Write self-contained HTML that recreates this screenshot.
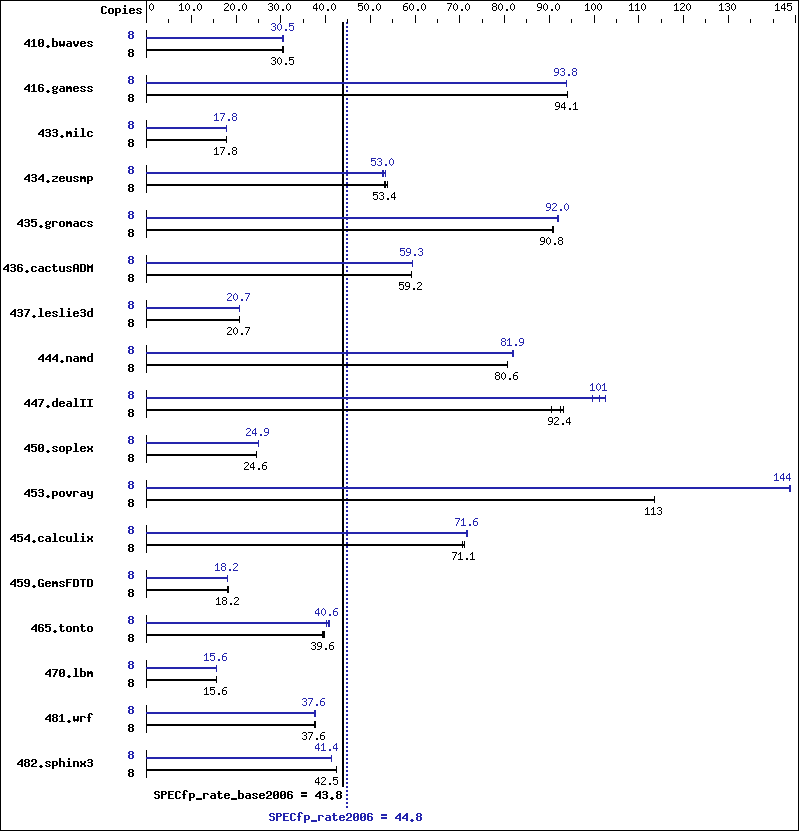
<!DOCTYPE html>
<html><head><meta charset="utf-8"><title>SPECfp_rate2006</title>
<style>html,body{margin:0;padding:0;background:#fff;width:799px;height:831px;overflow:hidden;font-family:"Liberation Sans",sans-serif}svg{display:block}</style>
</head><body>
<svg width="799" height="831" viewBox="0 0 799 831" shape-rendering="crispEdges">
<defs><path id="s2e" d="M2 9h2v1h-2zM2 10h2v1h-2z"/><path id="s30" d="M2 3h1v1h-1zM1 4h1v1h-1zM3 4h1v1h-1zM0 5h1v1h-1zM4 5h1v1h-1zM0 6h1v1h-1zM4 6h1v1h-1zM0 7h1v1h-1zM4 7h1v1h-1zM0 8h1v1h-1zM4 8h1v1h-1zM1 9h1v1h-1zM3 9h1v1h-1zM2 10h1v1h-1z"/><path id="s31" d="M2 3h1v1h-1zM1 4h2v1h-2zM0 5h1v1h-1zM2 5h1v1h-1zM2 6h1v1h-1zM2 7h1v1h-1zM2 8h1v1h-1zM2 9h1v1h-1zM0 10h5v1h-5z"/><path id="s32" d="M1 3h3v1h-3zM0 4h1v1h-1zM4 4h1v1h-1zM4 5h1v1h-1zM3 6h1v1h-1zM2 7h1v1h-1zM1 8h1v1h-1zM0 9h1v1h-1zM0 10h5v1h-5z"/><path id="s33" d="M1 3h3v1h-3zM0 4h1v1h-1zM4 4h1v1h-1zM4 5h1v1h-1zM2 6h2v1h-2zM4 7h1v1h-1zM4 8h1v1h-1zM0 9h1v1h-1zM4 9h1v1h-1zM1 10h3v1h-3z"/><path id="s34" d="M3 3h1v1h-1zM2 4h2v1h-2zM1 5h1v1h-1zM3 5h1v1h-1zM0 6h1v1h-1zM3 6h1v1h-1zM0 7h1v1h-1zM3 7h1v1h-1zM0 8h5v1h-5zM3 9h1v1h-1zM3 10h1v1h-1z"/><path id="s35" d="M0 3h5v1h-5zM0 4h1v1h-1zM0 5h4v1h-4zM0 6h1v1h-1zM4 6h1v1h-1zM4 7h1v1h-1zM4 8h1v1h-1zM0 9h1v1h-1zM4 9h1v1h-1zM1 10h3v1h-3z"/><path id="s36" d="M2 3h3v1h-3zM1 4h1v1h-1zM0 5h1v1h-1zM0 6h4v1h-4zM0 7h1v1h-1zM4 7h1v1h-1zM0 8h1v1h-1zM4 8h1v1h-1zM0 9h1v1h-1zM4 9h1v1h-1zM1 10h3v1h-3z"/><path id="s37" d="M0 3h5v1h-5zM4 4h1v1h-1zM3 5h1v1h-1zM3 6h1v1h-1zM2 7h1v1h-1zM2 8h1v1h-1zM1 9h1v1h-1zM1 10h1v1h-1z"/><path id="s38" d="M1 3h3v1h-3zM0 4h1v1h-1zM4 4h1v1h-1zM0 5h1v1h-1zM4 5h1v1h-1zM1 6h3v1h-3zM0 7h1v1h-1zM4 7h1v1h-1zM0 8h1v1h-1zM4 8h1v1h-1zM0 9h1v1h-1zM4 9h1v1h-1zM1 10h3v1h-3z"/><path id="s39" d="M1 3h3v1h-3zM0 4h1v1h-1zM4 4h1v1h-1zM0 5h1v1h-1zM4 5h1v1h-1zM0 6h1v1h-1zM4 6h1v1h-1zM1 7h4v1h-4zM4 8h1v1h-1zM3 9h1v1h-1zM0 10h3v1h-3z"/><path id="b2e" d="M2 9h2v1h-2zM1 10h4v1h-4zM2 11h2v1h-2z"/><path id="b30" d="M1 3h4v1h-4zM0 4h2v1h-2zM4 4h2v1h-2zM0 5h2v1h-2zM4 5h2v1h-2zM0 6h2v1h-2zM3 6h3v1h-3zM0 7h3v1h-3zM4 7h2v1h-2zM0 8h2v1h-2zM4 8h2v1h-2zM0 9h2v1h-2zM4 9h2v1h-2zM1 10h4v1h-4z"/><path id="b31" d="M2 3h2v1h-2zM1 4h3v1h-3zM0 5h1v1h-1zM2 5h2v1h-2zM2 6h2v1h-2zM2 7h2v1h-2zM2 8h2v1h-2zM2 9h2v1h-2zM0 10h6v1h-6z"/><path id="b32" d="M1 3h4v1h-4zM0 4h2v1h-2zM4 4h2v1h-2zM0 5h2v1h-2zM4 5h2v1h-2zM4 6h2v1h-2zM2 7h3v1h-3zM1 8h2v1h-2zM0 9h2v1h-2zM0 10h6v1h-6z"/><path id="b33" d="M1 3h4v1h-4zM0 4h2v1h-2zM4 4h2v1h-2zM4 5h2v1h-2zM1 6h4v1h-4zM4 7h2v1h-2zM4 8h2v1h-2zM0 9h2v1h-2zM4 9h2v1h-2zM1 10h4v1h-4z"/><path id="b34" d="M4 3h2v1h-2zM3 4h3v1h-3zM2 5h4v1h-4zM1 6h2v1h-2zM4 6h2v1h-2zM0 7h2v1h-2zM4 7h2v1h-2zM0 8h6v1h-6zM4 9h2v1h-2zM4 10h2v1h-2z"/><path id="b35" d="M0 3h6v1h-6zM0 4h2v1h-2zM0 5h5v1h-5zM0 6h2v1h-2zM4 6h2v1h-2zM4 7h2v1h-2zM4 8h2v1h-2zM0 9h2v1h-2zM4 9h2v1h-2zM1 10h4v1h-4z"/><path id="b36" d="M1 3h4v1h-4zM0 4h2v1h-2zM4 4h2v1h-2zM0 5h2v1h-2zM0 6h5v1h-5zM0 7h2v1h-2zM4 7h2v1h-2zM0 8h2v1h-2zM4 8h2v1h-2zM0 9h2v1h-2zM4 9h2v1h-2zM1 10h4v1h-4z"/><path id="b37" d="M0 3h6v1h-6zM4 4h2v1h-2zM3 5h2v1h-2zM3 6h2v1h-2zM2 7h2v1h-2zM2 8h2v1h-2zM1 9h2v1h-2zM1 10h2v1h-2z"/><path id="b38" d="M1 3h4v1h-4zM0 4h2v1h-2zM4 4h2v1h-2zM0 5h2v1h-2zM4 5h2v1h-2zM1 6h4v1h-4zM0 7h2v1h-2zM4 7h2v1h-2zM0 8h2v1h-2zM4 8h2v1h-2zM0 9h2v1h-2zM4 9h2v1h-2zM1 10h4v1h-4z"/><path id="b39" d="M1 3h4v1h-4zM0 4h2v1h-2zM4 4h2v1h-2zM0 5h2v1h-2zM4 5h2v1h-2zM0 6h2v1h-2zM4 6h2v1h-2zM1 7h5v1h-5zM4 8h2v1h-2zM0 9h2v1h-2zM4 9h2v1h-2zM1 10h4v1h-4z"/><path id="b3d" d="M0 4h6v1h-6zM0 5h6v1h-6zM0 7h6v1h-6zM0 8h6v1h-6z"/><path id="b41" d="M1 3h4v1h-4zM0 4h2v1h-2zM4 4h2v1h-2zM0 5h2v1h-2zM4 5h2v1h-2zM0 6h2v1h-2zM4 6h2v1h-2zM0 7h6v1h-6zM0 8h2v1h-2zM4 8h2v1h-2zM0 9h2v1h-2zM4 9h2v1h-2zM0 10h2v1h-2zM4 10h2v1h-2z"/><path id="b43" d="M1 3h4v1h-4zM0 4h2v1h-2zM4 4h2v1h-2zM0 5h2v1h-2zM0 6h2v1h-2zM0 7h2v1h-2zM0 8h2v1h-2zM0 9h2v1h-2zM4 9h2v1h-2zM1 10h4v1h-4z"/><path id="b44" d="M0 3h5v1h-5zM0 4h2v1h-2zM4 4h2v1h-2zM0 5h2v1h-2zM4 5h2v1h-2zM0 6h2v1h-2zM4 6h2v1h-2zM0 7h2v1h-2zM4 7h2v1h-2zM0 8h2v1h-2zM4 8h2v1h-2zM0 9h2v1h-2zM4 9h2v1h-2zM0 10h5v1h-5z"/><path id="b45" d="M0 3h6v1h-6zM0 4h2v1h-2zM0 5h2v1h-2zM0 6h5v1h-5zM0 7h2v1h-2zM0 8h2v1h-2zM0 9h2v1h-2zM0 10h6v1h-6z"/><path id="b46" d="M0 3h6v1h-6zM0 4h2v1h-2zM0 5h2v1h-2zM0 6h5v1h-5zM0 7h2v1h-2zM0 8h2v1h-2zM0 9h2v1h-2zM0 10h2v1h-2z"/><path id="b47" d="M1 3h4v1h-4zM0 4h2v1h-2zM4 4h2v1h-2zM0 5h2v1h-2zM0 6h2v1h-2zM0 7h2v1h-2zM3 7h3v1h-3zM0 8h2v1h-2zM4 8h2v1h-2zM0 9h2v1h-2zM4 9h2v1h-2zM1 10h5v1h-5z"/><path id="b49" d="M0 3h6v1h-6zM2 4h2v1h-2zM2 5h2v1h-2zM2 6h2v1h-2zM2 7h2v1h-2zM2 8h2v1h-2zM2 9h2v1h-2zM0 10h6v1h-6z"/><path id="b4d" d="M0 3h1v1h-1zM5 3h1v1h-1zM0 4h2v1h-2zM4 4h2v1h-2zM0 5h6v1h-6zM0 6h6v1h-6zM0 7h2v1h-2zM4 7h2v1h-2zM0 8h2v1h-2zM4 8h2v1h-2zM0 9h2v1h-2zM4 9h2v1h-2zM0 10h2v1h-2zM4 10h2v1h-2z"/><path id="b50" d="M0 3h5v1h-5zM0 4h2v1h-2zM4 4h2v1h-2zM0 5h2v1h-2zM4 5h2v1h-2zM0 6h5v1h-5zM0 7h2v1h-2zM0 8h2v1h-2zM0 9h2v1h-2zM0 10h2v1h-2z"/><path id="b53" d="M1 3h4v1h-4zM0 4h2v1h-2zM4 4h2v1h-2zM0 5h2v1h-2zM1 6h4v1h-4zM4 7h2v1h-2zM4 8h2v1h-2zM0 9h2v1h-2zM4 9h2v1h-2zM1 10h4v1h-4z"/><path id="b54" d="M0 3h6v1h-6zM2 4h2v1h-2zM2 5h2v1h-2zM2 6h2v1h-2zM2 7h2v1h-2zM2 8h2v1h-2zM2 9h2v1h-2zM2 10h2v1h-2z"/><path id="b5f" d="M0 10h6v1h-6zM0 11h6v1h-6z"/><path id="b61" d="M1 5h4v1h-4zM4 6h2v1h-2zM1 7h5v1h-5zM0 8h2v1h-2zM4 8h2v1h-2zM0 9h2v1h-2zM4 9h2v1h-2zM1 10h5v1h-5z"/><path id="b62" d="M0 2h2v1h-2zM0 3h2v1h-2zM0 4h2v1h-2zM0 5h5v1h-5zM0 6h2v1h-2zM4 6h2v1h-2zM0 7h2v1h-2zM4 7h2v1h-2zM0 8h2v1h-2zM4 8h2v1h-2zM0 9h2v1h-2zM4 9h2v1h-2zM0 10h5v1h-5z"/><path id="b63" d="M1 5h4v1h-4zM0 6h2v1h-2zM4 6h2v1h-2zM0 7h2v1h-2zM0 8h2v1h-2zM0 9h2v1h-2zM4 9h2v1h-2zM1 10h4v1h-4z"/><path id="b64" d="M4 2h2v1h-2zM4 3h2v1h-2zM4 4h2v1h-2zM1 5h5v1h-5zM0 6h2v1h-2zM4 6h2v1h-2zM0 7h2v1h-2zM4 7h2v1h-2zM0 8h2v1h-2zM4 8h2v1h-2zM0 9h2v1h-2zM4 9h2v1h-2zM1 10h5v1h-5z"/><path id="b65" d="M1 5h4v1h-4zM0 6h2v1h-2zM4 6h2v1h-2zM0 7h6v1h-6zM0 8h2v1h-2zM0 9h2v1h-2zM4 9h2v1h-2zM1 10h4v1h-4z"/><path id="b66" d="M2 2h3v1h-3zM1 3h2v1h-2zM4 3h2v1h-2zM1 4h2v1h-2zM1 5h2v1h-2zM0 6h4v1h-4zM1 7h2v1h-2zM1 8h2v1h-2zM1 9h2v1h-2zM1 10h2v1h-2z"/><path id="b67" d="M1 5h3v1h-3zM5 5h1v1h-1zM0 6h2v1h-2zM4 6h2v1h-2zM0 7h2v1h-2zM4 7h2v1h-2zM1 8h4v1h-4zM0 9h2v1h-2zM1 10h4v1h-4zM0 11h2v1h-2zM4 11h2v1h-2zM1 12h4v1h-4z"/><path id="b68" d="M0 2h2v1h-2zM0 3h2v1h-2zM0 4h2v1h-2zM0 5h5v1h-5zM0 6h2v1h-2zM4 6h2v1h-2zM0 7h2v1h-2zM4 7h2v1h-2zM0 8h2v1h-2zM4 8h2v1h-2zM0 9h2v1h-2zM4 9h2v1h-2zM0 10h2v1h-2zM4 10h2v1h-2z"/><path id="b69" d="M2 2h2v1h-2zM2 3h2v1h-2zM1 5h3v1h-3zM2 6h2v1h-2zM2 7h2v1h-2zM2 8h2v1h-2zM2 9h2v1h-2zM0 10h6v1h-6z"/><path id="b6c" d="M1 2h3v1h-3zM2 3h2v1h-2zM2 4h2v1h-2zM2 5h2v1h-2zM2 6h2v1h-2zM2 7h2v1h-2zM2 8h2v1h-2zM2 9h2v1h-2zM0 10h6v1h-6z"/><path id="b6d" d="M0 5h2v1h-2zM3 5h2v1h-2zM0 6h6v1h-6zM0 7h6v1h-6zM0 8h2v1h-2zM4 8h2v1h-2zM0 9h2v1h-2zM4 9h2v1h-2zM0 10h2v1h-2zM4 10h2v1h-2z"/><path id="b6e" d="M0 5h5v1h-5zM0 6h2v1h-2zM4 6h2v1h-2zM0 7h2v1h-2zM4 7h2v1h-2zM0 8h2v1h-2zM4 8h2v1h-2zM0 9h2v1h-2zM4 9h2v1h-2zM0 10h2v1h-2zM4 10h2v1h-2z"/><path id="b6f" d="M1 5h4v1h-4zM0 6h2v1h-2zM4 6h2v1h-2zM0 7h2v1h-2zM4 7h2v1h-2zM0 8h2v1h-2zM4 8h2v1h-2zM0 9h2v1h-2zM4 9h2v1h-2zM1 10h4v1h-4z"/><path id="b70" d="M0 5h5v1h-5zM0 6h2v1h-2zM4 6h2v1h-2zM0 7h2v1h-2zM4 7h2v1h-2zM0 8h2v1h-2zM4 8h2v1h-2zM0 9h5v1h-5zM0 10h2v1h-2zM0 11h2v1h-2zM0 12h2v1h-2z"/><path id="b72" d="M0 5h5v1h-5zM0 6h2v1h-2zM4 6h2v1h-2zM0 7h2v1h-2zM0 8h2v1h-2zM0 9h2v1h-2zM0 10h2v1h-2z"/><path id="b73" d="M1 5h4v1h-4zM0 6h2v1h-2zM4 6h2v1h-2zM1 7h2v1h-2zM3 8h2v1h-2zM0 9h2v1h-2zM4 9h2v1h-2zM1 10h4v1h-4z"/><path id="b74" d="M1 3h2v1h-2zM1 4h2v1h-2zM0 5h5v1h-5zM1 6h2v1h-2zM1 7h2v1h-2zM1 8h2v1h-2zM1 9h2v1h-2zM4 9h2v1h-2zM2 10h3v1h-3z"/><path id="b75" d="M0 5h2v1h-2zM4 5h2v1h-2zM0 6h2v1h-2zM4 6h2v1h-2zM0 7h2v1h-2zM4 7h2v1h-2zM0 8h2v1h-2zM4 8h2v1h-2zM0 9h2v1h-2zM4 9h2v1h-2zM1 10h5v1h-5z"/><path id="b76" d="M0 5h2v1h-2zM4 5h2v1h-2zM0 6h2v1h-2zM4 6h2v1h-2zM0 7h2v1h-2zM4 7h2v1h-2zM1 8h4v1h-4zM1 9h4v1h-4zM2 10h2v1h-2z"/><path id="b77" d="M0 5h2v1h-2zM4 5h2v1h-2zM0 6h2v1h-2zM4 6h2v1h-2zM0 7h2v1h-2zM4 7h2v1h-2zM0 8h6v1h-6zM0 9h6v1h-6zM1 10h1v1h-1zM4 10h1v1h-1z"/><path id="b78" d="M0 5h2v1h-2zM4 5h2v1h-2zM0 6h2v1h-2zM4 6h2v1h-2zM1 7h4v1h-4zM1 8h4v1h-4zM0 9h2v1h-2zM4 9h2v1h-2zM0 10h2v1h-2zM4 10h2v1h-2z"/><path id="b79" d="M0 5h2v1h-2zM4 5h2v1h-2zM0 6h2v1h-2zM4 6h2v1h-2zM0 7h2v1h-2zM4 7h2v1h-2zM0 8h2v1h-2zM4 8h2v1h-2zM1 9h5v1h-5zM4 10h2v1h-2zM4 11h2v1h-2zM1 12h4v1h-4z"/><path id="b7a" d="M0 5h6v1h-6zM4 6h2v1h-2zM3 7h2v1h-2zM1 8h2v1h-2zM0 9h2v1h-2zM0 10h6v1h-6z"/></defs>
<rect width="799" height="831" fill="#fff"/>
<path fill="#000" d="M342 22h2v765h-2z"/>
<path fill="#2525ad" d="M346 22h2v2h-2zM346 26h2v2h-2zM346 30h2v2h-2zM346 34h2v2h-2zM346 38h2v2h-2zM346 42h2v2h-2zM346 46h2v2h-2zM346 50h2v2h-2zM346 54h2v2h-2zM346 58h2v2h-2zM346 62h2v2h-2zM346 66h2v2h-2zM346 70h2v2h-2zM346 74h2v2h-2zM346 78h2v2h-2zM346 82h2v2h-2zM346 86h2v2h-2zM346 90h2v2h-2zM346 94h2v2h-2zM346 98h2v2h-2zM346 102h2v2h-2zM346 106h2v2h-2zM346 110h2v2h-2zM346 114h2v2h-2zM346 118h2v2h-2zM346 122h2v2h-2zM346 126h2v2h-2zM346 130h2v2h-2zM346 134h2v2h-2zM346 138h2v2h-2zM346 142h2v2h-2zM346 146h2v2h-2zM346 150h2v2h-2zM346 154h2v2h-2zM346 158h2v2h-2zM346 162h2v2h-2zM346 166h2v2h-2zM346 170h2v2h-2zM346 174h2v2h-2zM346 178h2v2h-2zM346 182h2v2h-2zM346 186h2v2h-2zM346 190h2v2h-2zM346 194h2v2h-2zM346 198h2v2h-2zM346 202h2v2h-2zM346 206h2v2h-2zM346 210h2v2h-2zM346 214h2v2h-2zM346 218h2v2h-2zM346 222h2v2h-2zM346 226h2v2h-2zM346 230h2v2h-2zM346 234h2v2h-2zM346 238h2v2h-2zM346 242h2v2h-2zM346 246h2v2h-2zM346 250h2v2h-2zM346 254h2v2h-2zM346 258h2v2h-2zM346 262h2v2h-2zM346 266h2v2h-2zM346 270h2v2h-2zM346 274h2v2h-2zM346 278h2v2h-2zM346 282h2v2h-2zM346 286h2v2h-2zM346 290h2v2h-2zM346 294h2v2h-2zM346 298h2v2h-2zM346 302h2v2h-2zM346 306h2v2h-2zM346 310h2v2h-2zM346 314h2v2h-2zM346 318h2v2h-2zM346 322h2v2h-2zM346 326h2v2h-2zM346 330h2v2h-2zM346 334h2v2h-2zM346 338h2v2h-2zM346 342h2v2h-2zM346 346h2v2h-2zM346 350h2v2h-2zM346 354h2v2h-2zM346 358h2v2h-2zM346 362h2v2h-2zM346 366h2v2h-2zM346 370h2v2h-2zM346 374h2v2h-2zM346 378h2v2h-2zM346 382h2v2h-2zM346 386h2v2h-2zM346 390h2v2h-2zM346 394h2v2h-2zM346 398h2v2h-2zM346 402h2v2h-2zM346 406h2v2h-2zM346 410h2v2h-2zM346 414h2v2h-2zM346 418h2v2h-2zM346 422h2v2h-2zM346 426h2v2h-2zM346 430h2v2h-2zM346 434h2v2h-2zM346 438h2v2h-2zM346 442h2v2h-2zM346 446h2v2h-2zM346 450h2v2h-2zM346 454h2v2h-2zM346 458h2v2h-2zM346 462h2v2h-2zM346 466h2v2h-2zM346 470h2v2h-2zM346 474h2v2h-2zM346 478h2v2h-2zM346 482h2v2h-2zM346 486h2v2h-2zM346 490h2v2h-2zM346 494h2v2h-2zM346 498h2v2h-2zM346 502h2v2h-2zM346 506h2v2h-2zM346 510h2v2h-2zM346 514h2v2h-2zM346 518h2v2h-2zM346 522h2v2h-2zM346 526h2v2h-2zM346 530h2v2h-2zM346 534h2v2h-2zM346 538h2v2h-2zM346 542h2v2h-2zM346 546h2v2h-2zM346 550h2v2h-2zM346 554h2v2h-2zM346 558h2v2h-2zM346 562h2v2h-2zM346 566h2v2h-2zM346 570h2v2h-2zM346 574h2v2h-2zM346 578h2v2h-2zM346 582h2v2h-2zM346 586h2v2h-2zM346 590h2v2h-2zM346 594h2v2h-2zM346 598h2v2h-2zM346 602h2v2h-2zM346 606h2v2h-2zM346 610h2v2h-2zM346 614h2v2h-2zM346 618h2v2h-2zM346 622h2v2h-2zM346 626h2v2h-2zM346 630h2v2h-2zM346 634h2v2h-2zM346 638h2v2h-2zM346 642h2v2h-2zM346 646h2v2h-2zM346 650h2v2h-2zM346 654h2v2h-2zM346 658h2v2h-2zM346 662h2v2h-2zM346 666h2v2h-2zM346 670h2v2h-2zM346 674h2v2h-2zM346 678h2v2h-2zM346 682h2v2h-2zM346 686h2v2h-2zM346 690h2v2h-2zM346 694h2v2h-2zM346 698h2v2h-2zM346 702h2v2h-2zM346 706h2v2h-2zM346 710h2v2h-2zM346 714h2v2h-2zM346 718h2v2h-2zM346 722h2v2h-2zM346 726h2v2h-2zM346 730h2v2h-2zM346 734h2v2h-2zM346 738h2v2h-2zM346 742h2v2h-2zM346 746h2v2h-2zM346 750h2v2h-2zM346 754h2v2h-2zM346 758h2v2h-2zM346 762h2v2h-2zM346 766h2v2h-2zM346 770h2v2h-2zM346 774h2v2h-2zM346 778h2v2h-2zM346 782h2v2h-2zM346 786h2v2h-2zM346 790h2v2h-2zM346 794h2v2h-2zM346 798h2v2h-2zM346 802h2v2h-2zM346 806h2v2h-2z"/>
<path fill="#000" d="M0 0h799v1h-799zM0 830h799v1h-799zM0 0h1v831h-1zM798 0h1v831h-1zM146 0h1v23h-1zM146 15h1v8h-1zM168 19h1v4h-1zM191 15h1v8h-1zM213 19h1v4h-1zM236 15h1v8h-1zM258 19h1v4h-1zM280 15h1v8h-1zM303 19h1v4h-1zM325 15h1v8h-1zM347 19h1v4h-1zM370 15h1v8h-1zM392 19h1v4h-1zM415 15h1v8h-1zM437 19h1v4h-1zM459 15h1v8h-1zM482 19h1v4h-1zM504 15h1v8h-1zM526 19h1v4h-1zM549 15h1v8h-1zM571 19h1v4h-1zM594 15h1v8h-1zM616 19h1v4h-1zM638 15h1v8h-1zM661 19h1v4h-1zM683 15h1v8h-1zM705 19h1v4h-1zM728 15h1v8h-1zM750 19h1v4h-1zM773 19h1v4h-1zM795 15h1v8h-1zM146 30h1v28h-1zM146 49h138v2h-138zM282 46h2v7h-2zM146 75h1v28h-1zM146 94h422v2h-422zM567 91h1v7h-1zM146 120h1v28h-1zM146 139h81v2h-81zM226 136h1v7h-1zM146 165h1v28h-1zM146 184h242v2h-242zM384 181h2v7h-2zM387 181h1v7h-1zM146 210h1v28h-1zM146 229h408v2h-408zM552 226h2v7h-2zM146 255h1v28h-1zM146 274h266v2h-266zM411 271h1v7h-1zM146 300h1v28h-1zM146 319h94v2h-94zM239 316h1v7h-1zM146 345h1v28h-1zM146 364h362v2h-362zM507 361h1v7h-1zM146 390h1v28h-1zM146 409h418v2h-418zM551 406h1v7h-1zM560 406h1v7h-1zM563 406h1v7h-1zM146 435h1v28h-1zM146 454h111v2h-111zM256 451h1v7h-1zM146 480h1v28h-1zM146 499h509v2h-509zM654 496h1v7h-1zM146 525h1v28h-1zM146 544h319v2h-319zM462 541h1v7h-1zM464 541h1v7h-1zM146 570h1v28h-1zM146 589h83v2h-83zM227 586h2v7h-2zM146 615h1v28h-1zM146 634h179v2h-179zM322 631h3v7h-3zM146 660h1v28h-1zM146 679h71v2h-71zM216 676h1v7h-1zM146 705h1v28h-1zM146 724h170v2h-170zM314 721h2v7h-2zM146 750h1v28h-1zM146 769h191v2h-191zM336 766h1v7h-1z"/>
<path fill="#2525ad" d="M146 37h138v2h-138zM282 35h2v7h-2zM146 82h421v2h-421zM566 80h1v7h-1zM146 127h81v2h-81zM226 125h1v7h-1zM146 172h240v2h-240zM382 170h2v7h-2zM385 170h1v7h-1zM146 217h413v2h-413zM557 215h2v7h-2zM146 262h267v2h-267zM412 260h1v7h-1zM146 307h94v2h-94zM239 305h1v7h-1zM146 352h368v2h-368zM512 350h2v7h-2zM146 397h460v2h-460zM592 395h1v7h-1zM599 395h1v7h-1zM605 395h1v7h-1zM146 442h113v2h-113zM258 440h1v7h-1zM146 487h645v2h-645zM789 485h2v7h-2zM146 532h322v2h-322zM466 530h2v7h-2zM146 577h82v2h-82zM227 575h1v7h-1zM146 622h184v2h-184zM326 620h1v7h-1zM328 620h2v7h-2zM146 667h71v2h-71zM216 665h1v7h-1zM146 712h170v2h-170zM314 710h2v7h-2zM146 757h186v2h-186zM331 755h1v7h-1z"/>
<g fill="#000"><use href="#b43" x="101" y="3"/><use href="#b6f" x="108" y="3"/><use href="#b70" x="115" y="3"/><use href="#b69" x="122" y="3"/><use href="#b65" x="129" y="3"/><use href="#b73" x="136" y="3"/><use href="#s30" x="149" y="0"/><use href="#s31" x="179" y="0"/><use href="#s30" x="185" y="0"/><use href="#s2e" x="191" y="0"/><use href="#s30" x="197" y="0"/><use href="#s32" x="224" y="0"/><use href="#s30" x="230" y="0"/><use href="#s2e" x="236" y="0"/><use href="#s30" x="242" y="0"/><use href="#s33" x="268" y="0"/><use href="#s30" x="274" y="0"/><use href="#s2e" x="280" y="0"/><use href="#s30" x="286" y="0"/><use href="#s34" x="313" y="0"/><use href="#s30" x="319" y="0"/><use href="#s2e" x="325" y="0"/><use href="#s30" x="331" y="0"/><use href="#s35" x="358" y="0"/><use href="#s30" x="364" y="0"/><use href="#s2e" x="370" y="0"/><use href="#s30" x="376" y="0"/><use href="#s36" x="403" y="0"/><use href="#s30" x="409" y="0"/><use href="#s2e" x="415" y="0"/><use href="#s30" x="421" y="0"/><use href="#s37" x="447" y="0"/><use href="#s30" x="453" y="0"/><use href="#s2e" x="459" y="0"/><use href="#s30" x="465" y="0"/><use href="#s38" x="492" y="0"/><use href="#s30" x="498" y="0"/><use href="#s2e" x="504" y="0"/><use href="#s30" x="510" y="0"/><use href="#s39" x="537" y="0"/><use href="#s30" x="543" y="0"/><use href="#s2e" x="549" y="0"/><use href="#s30" x="555" y="0"/><use href="#s31" x="585" y="0"/><use href="#s30" x="591" y="0"/><use href="#s30" x="597" y="0"/><use href="#s31" x="629" y="0"/><use href="#s31" x="635" y="0"/><use href="#s30" x="641" y="0"/><use href="#s31" x="674" y="0"/><use href="#s32" x="680" y="0"/><use href="#s30" x="686" y="0"/><use href="#s31" x="719" y="0"/><use href="#s33" x="725" y="0"/><use href="#s30" x="731" y="0"/><use href="#s31" x="775" y="0"/><use href="#s34" x="781" y="0"/><use href="#s35" x="787" y="0"/><use href="#b34" x="24" y="36"/><use href="#b31" x="31" y="36"/><use href="#b30" x="38" y="36"/><use href="#b2e" x="45" y="36"/><use href="#b62" x="52" y="36"/><use href="#b77" x="59" y="36"/><use href="#b61" x="66" y="36"/><use href="#b76" x="73" y="36"/><use href="#b65" x="80" y="36"/><use href="#b73" x="87" y="36"/><use href="#b38" x="128" y="46"/><use href="#s33" x="271" y="54"/><use href="#s30" x="277" y="54"/><use href="#s2e" x="283" y="54"/><use href="#s35" x="289" y="54"/><use href="#b34" x="24" y="81"/><use href="#b31" x="31" y="81"/><use href="#b36" x="38" y="81"/><use href="#b2e" x="45" y="81"/><use href="#b67" x="52" y="81"/><use href="#b61" x="59" y="81"/><use href="#b6d" x="66" y="81"/><use href="#b65" x="73" y="81"/><use href="#b73" x="80" y="81"/><use href="#b73" x="87" y="81"/><use href="#b38" x="128" y="91"/><use href="#s39" x="555" y="99"/><use href="#s34" x="561" y="99"/><use href="#s2e" x="567" y="99"/><use href="#s31" x="573" y="99"/><use href="#b34" x="38" y="126"/><use href="#b33" x="45" y="126"/><use href="#b33" x="52" y="126"/><use href="#b2e" x="59" y="126"/><use href="#b6d" x="66" y="126"/><use href="#b69" x="73" y="126"/><use href="#b6c" x="80" y="126"/><use href="#b63" x="87" y="126"/><use href="#b38" x="128" y="136"/><use href="#s31" x="214" y="144"/><use href="#s37" x="220" y="144"/><use href="#s2e" x="226" y="144"/><use href="#s38" x="232" y="144"/><use href="#b34" x="24" y="171"/><use href="#b33" x="31" y="171"/><use href="#b34" x="38" y="171"/><use href="#b2e" x="45" y="171"/><use href="#b7a" x="52" y="171"/><use href="#b65" x="59" y="171"/><use href="#b75" x="66" y="171"/><use href="#b73" x="73" y="171"/><use href="#b6d" x="80" y="171"/><use href="#b70" x="87" y="171"/><use href="#b38" x="128" y="181"/><use href="#s35" x="373" y="189"/><use href="#s33" x="379" y="189"/><use href="#s2e" x="385" y="189"/><use href="#s34" x="391" y="189"/><use href="#b34" x="17" y="216"/><use href="#b33" x="24" y="216"/><use href="#b35" x="31" y="216"/><use href="#b2e" x="38" y="216"/><use href="#b67" x="45" y="216"/><use href="#b72" x="52" y="216"/><use href="#b6f" x="59" y="216"/><use href="#b6d" x="66" y="216"/><use href="#b61" x="73" y="216"/><use href="#b63" x="80" y="216"/><use href="#b73" x="87" y="216"/><use href="#b38" x="128" y="226"/><use href="#s39" x="540" y="234"/><use href="#s30" x="546" y="234"/><use href="#s2e" x="552" y="234"/><use href="#s38" x="558" y="234"/><use href="#b34" x="3" y="261"/><use href="#b33" x="10" y="261"/><use href="#b36" x="17" y="261"/><use href="#b2e" x="24" y="261"/><use href="#b63" x="31" y="261"/><use href="#b61" x="38" y="261"/><use href="#b63" x="45" y="261"/><use href="#b74" x="52" y="261"/><use href="#b75" x="59" y="261"/><use href="#b73" x="66" y="261"/><use href="#b41" x="73" y="261"/><use href="#b44" x="80" y="261"/><use href="#b4d" x="87" y="261"/><use href="#b38" x="128" y="271"/><use href="#s35" x="399" y="279"/><use href="#s39" x="405" y="279"/><use href="#s2e" x="411" y="279"/><use href="#s32" x="417" y="279"/><use href="#b34" x="10" y="306"/><use href="#b33" x="17" y="306"/><use href="#b37" x="24" y="306"/><use href="#b2e" x="31" y="306"/><use href="#b6c" x="38" y="306"/><use href="#b65" x="45" y="306"/><use href="#b73" x="52" y="306"/><use href="#b6c" x="59" y="306"/><use href="#b69" x="66" y="306"/><use href="#b65" x="73" y="306"/><use href="#b33" x="80" y="306"/><use href="#b64" x="87" y="306"/><use href="#b38" x="128" y="316"/><use href="#s32" x="227" y="324"/><use href="#s30" x="233" y="324"/><use href="#s2e" x="239" y="324"/><use href="#s37" x="245" y="324"/><use href="#b34" x="38" y="351"/><use href="#b34" x="45" y="351"/><use href="#b34" x="52" y="351"/><use href="#b2e" x="59" y="351"/><use href="#b6e" x="66" y="351"/><use href="#b61" x="73" y="351"/><use href="#b6d" x="80" y="351"/><use href="#b64" x="87" y="351"/><use href="#b38" x="128" y="361"/><use href="#s38" x="495" y="369"/><use href="#s30" x="501" y="369"/><use href="#s2e" x="507" y="369"/><use href="#s36" x="513" y="369"/><use href="#b34" x="24" y="396"/><use href="#b34" x="31" y="396"/><use href="#b37" x="38" y="396"/><use href="#b2e" x="45" y="396"/><use href="#b64" x="52" y="396"/><use href="#b65" x="59" y="396"/><use href="#b61" x="66" y="396"/><use href="#b6c" x="73" y="396"/><use href="#b49" x="80" y="396"/><use href="#b49" x="87" y="396"/><use href="#b38" x="128" y="406"/><use href="#s39" x="548" y="414"/><use href="#s32" x="554" y="414"/><use href="#s2e" x="560" y="414"/><use href="#s34" x="566" y="414"/><use href="#b34" x="24" y="441"/><use href="#b35" x="31" y="441"/><use href="#b30" x="38" y="441"/><use href="#b2e" x="45" y="441"/><use href="#b73" x="52" y="441"/><use href="#b6f" x="59" y="441"/><use href="#b70" x="66" y="441"/><use href="#b6c" x="73" y="441"/><use href="#b65" x="80" y="441"/><use href="#b78" x="87" y="441"/><use href="#b38" x="128" y="451"/><use href="#s32" x="244" y="459"/><use href="#s34" x="250" y="459"/><use href="#s2e" x="256" y="459"/><use href="#s36" x="262" y="459"/><use href="#b34" x="24" y="486"/><use href="#b35" x="31" y="486"/><use href="#b33" x="38" y="486"/><use href="#b2e" x="45" y="486"/><use href="#b70" x="52" y="486"/><use href="#b6f" x="59" y="486"/><use href="#b76" x="66" y="486"/><use href="#b72" x="73" y="486"/><use href="#b61" x="80" y="486"/><use href="#b79" x="87" y="486"/><use href="#b38" x="128" y="496"/><use href="#s31" x="645" y="504"/><use href="#s31" x="651" y="504"/><use href="#s33" x="657" y="504"/><use href="#b34" x="10" y="531"/><use href="#b35" x="17" y="531"/><use href="#b34" x="24" y="531"/><use href="#b2e" x="31" y="531"/><use href="#b63" x="38" y="531"/><use href="#b61" x="45" y="531"/><use href="#b6c" x="52" y="531"/><use href="#b63" x="59" y="531"/><use href="#b75" x="66" y="531"/><use href="#b6c" x="73" y="531"/><use href="#b69" x="80" y="531"/><use href="#b78" x="87" y="531"/><use href="#b38" x="128" y="541"/><use href="#s37" x="452" y="549"/><use href="#s31" x="458" y="549"/><use href="#s2e" x="464" y="549"/><use href="#s31" x="470" y="549"/><use href="#b34" x="10" y="576"/><use href="#b35" x="17" y="576"/><use href="#b39" x="24" y="576"/><use href="#b2e" x="31" y="576"/><use href="#b47" x="38" y="576"/><use href="#b65" x="45" y="576"/><use href="#b6d" x="52" y="576"/><use href="#b73" x="59" y="576"/><use href="#b46" x="66" y="576"/><use href="#b44" x="73" y="576"/><use href="#b54" x="80" y="576"/><use href="#b44" x="87" y="576"/><use href="#b38" x="128" y="586"/><use href="#s31" x="216" y="594"/><use href="#s38" x="222" y="594"/><use href="#s2e" x="228" y="594"/><use href="#s32" x="234" y="594"/><use href="#b34" x="31" y="621"/><use href="#b36" x="38" y="621"/><use href="#b35" x="45" y="621"/><use href="#b2e" x="52" y="621"/><use href="#b74" x="59" y="621"/><use href="#b6f" x="66" y="621"/><use href="#b6e" x="73" y="621"/><use href="#b74" x="80" y="621"/><use href="#b6f" x="87" y="621"/><use href="#b38" x="128" y="631"/><use href="#s33" x="311" y="639"/><use href="#s39" x="317" y="639"/><use href="#s2e" x="323" y="639"/><use href="#s36" x="329" y="639"/><use href="#b34" x="45" y="666"/><use href="#b37" x="52" y="666"/><use href="#b30" x="59" y="666"/><use href="#b2e" x="66" y="666"/><use href="#b6c" x="73" y="666"/><use href="#b62" x="80" y="666"/><use href="#b6d" x="87" y="666"/><use href="#b38" x="128" y="676"/><use href="#s31" x="204" y="684"/><use href="#s35" x="210" y="684"/><use href="#s2e" x="216" y="684"/><use href="#s36" x="222" y="684"/><use href="#b34" x="45" y="711"/><use href="#b38" x="52" y="711"/><use href="#b31" x="59" y="711"/><use href="#b2e" x="66" y="711"/><use href="#b77" x="73" y="711"/><use href="#b72" x="80" y="711"/><use href="#b66" x="87" y="711"/><use href="#b38" x="128" y="721"/><use href="#s33" x="302" y="729"/><use href="#s37" x="308" y="729"/><use href="#s2e" x="314" y="729"/><use href="#s36" x="320" y="729"/><use href="#b34" x="17" y="756"/><use href="#b38" x="24" y="756"/><use href="#b32" x="31" y="756"/><use href="#b2e" x="38" y="756"/><use href="#b73" x="45" y="756"/><use href="#b70" x="52" y="756"/><use href="#b68" x="59" y="756"/><use href="#b69" x="66" y="756"/><use href="#b6e" x="73" y="756"/><use href="#b78" x="80" y="756"/><use href="#b33" x="87" y="756"/><use href="#b38" x="128" y="766"/><use href="#s34" x="315" y="774"/><use href="#s32" x="321" y="774"/><use href="#s2e" x="327" y="774"/><use href="#s35" x="333" y="774"/><use href="#b53" x="154" y="788"/><use href="#b50" x="161" y="788"/><use href="#b45" x="168" y="788"/><use href="#b43" x="175" y="788"/><use href="#b66" x="182" y="788"/><use href="#b70" x="189" y="788"/><use href="#b5f" x="196" y="788"/><use href="#b72" x="203" y="788"/><use href="#b61" x="210" y="788"/><use href="#b74" x="217" y="788"/><use href="#b65" x="224" y="788"/><use href="#b5f" x="231" y="788"/><use href="#b62" x="238" y="788"/><use href="#b61" x="245" y="788"/><use href="#b73" x="252" y="788"/><use href="#b65" x="259" y="788"/><use href="#b32" x="266" y="788"/><use href="#b30" x="273" y="788"/><use href="#b30" x="280" y="788"/><use href="#b36" x="287" y="788"/><use href="#b3d" x="301" y="788"/><use href="#b34" x="315" y="788"/><use href="#b33" x="322" y="788"/><use href="#b2e" x="329" y="788"/><use href="#b38" x="336" y="788"/></g>
<g fill="#2525ad"><use href="#b38" x="128" y="28"/><use href="#s33" x="271" y="20"/><use href="#s30" x="277" y="20"/><use href="#s2e" x="283" y="20"/><use href="#s35" x="289" y="20"/><use href="#b38" x="128" y="73"/><use href="#s39" x="554" y="65"/><use href="#s33" x="560" y="65"/><use href="#s2e" x="566" y="65"/><use href="#s38" x="572" y="65"/><use href="#b38" x="128" y="118"/><use href="#s31" x="214" y="110"/><use href="#s37" x="220" y="110"/><use href="#s2e" x="226" y="110"/><use href="#s38" x="232" y="110"/><use href="#b38" x="128" y="163"/><use href="#s35" x="371" y="155"/><use href="#s33" x="377" y="155"/><use href="#s2e" x="383" y="155"/><use href="#s30" x="389" y="155"/><use href="#b38" x="128" y="208"/><use href="#s39" x="546" y="200"/><use href="#s32" x="552" y="200"/><use href="#s2e" x="558" y="200"/><use href="#s30" x="564" y="200"/><use href="#b38" x="128" y="253"/><use href="#s35" x="400" y="245"/><use href="#s39" x="406" y="245"/><use href="#s2e" x="412" y="245"/><use href="#s33" x="418" y="245"/><use href="#b38" x="128" y="298"/><use href="#s32" x="227" y="290"/><use href="#s30" x="233" y="290"/><use href="#s2e" x="239" y="290"/><use href="#s37" x="245" y="290"/><use href="#b38" x="128" y="343"/><use href="#s38" x="501" y="335"/><use href="#s31" x="507" y="335"/><use href="#s2e" x="513" y="335"/><use href="#s39" x="519" y="335"/><use href="#b38" x="128" y="388"/><use href="#s31" x="590" y="380"/><use href="#s30" x="596" y="380"/><use href="#s31" x="602" y="380"/><use href="#b38" x="128" y="433"/><use href="#s32" x="246" y="425"/><use href="#s34" x="252" y="425"/><use href="#s2e" x="258" y="425"/><use href="#s39" x="264" y="425"/><use href="#b38" x="128" y="478"/><use href="#s31" x="774" y="470"/><use href="#s34" x="780" y="470"/><use href="#s34" x="786" y="470"/><use href="#b38" x="128" y="523"/><use href="#s37" x="455" y="515"/><use href="#s31" x="461" y="515"/><use href="#s2e" x="467" y="515"/><use href="#s36" x="473" y="515"/><use href="#b38" x="128" y="568"/><use href="#s31" x="215" y="560"/><use href="#s38" x="221" y="560"/><use href="#s2e" x="227" y="560"/><use href="#s32" x="233" y="560"/><use href="#b38" x="128" y="613"/><use href="#s34" x="315" y="605"/><use href="#s30" x="321" y="605"/><use href="#s2e" x="327" y="605"/><use href="#s36" x="333" y="605"/><use href="#b38" x="128" y="658"/><use href="#s31" x="204" y="650"/><use href="#s35" x="210" y="650"/><use href="#s2e" x="216" y="650"/><use href="#s36" x="222" y="650"/><use href="#b38" x="128" y="703"/><use href="#s33" x="302" y="695"/><use href="#s37" x="308" y="695"/><use href="#s2e" x="314" y="695"/><use href="#s36" x="320" y="695"/><use href="#b38" x="128" y="748"/><use href="#s34" x="315" y="740"/><use href="#s31" x="321" y="740"/><use href="#s2e" x="327" y="740"/><use href="#s34" x="333" y="740"/><use href="#b53" x="269" y="810"/><use href="#b50" x="276" y="810"/><use href="#b45" x="283" y="810"/><use href="#b43" x="290" y="810"/><use href="#b66" x="297" y="810"/><use href="#b70" x="304" y="810"/><use href="#b5f" x="311" y="810"/><use href="#b72" x="318" y="810"/><use href="#b61" x="325" y="810"/><use href="#b74" x="332" y="810"/><use href="#b65" x="339" y="810"/><use href="#b32" x="346" y="810"/><use href="#b30" x="353" y="810"/><use href="#b30" x="360" y="810"/><use href="#b36" x="367" y="810"/><use href="#b3d" x="381" y="810"/><use href="#b34" x="395" y="810"/><use href="#b34" x="402" y="810"/><use href="#b2e" x="409" y="810"/><use href="#b38" x="416" y="810"/></g>
</svg>
</body></html>
